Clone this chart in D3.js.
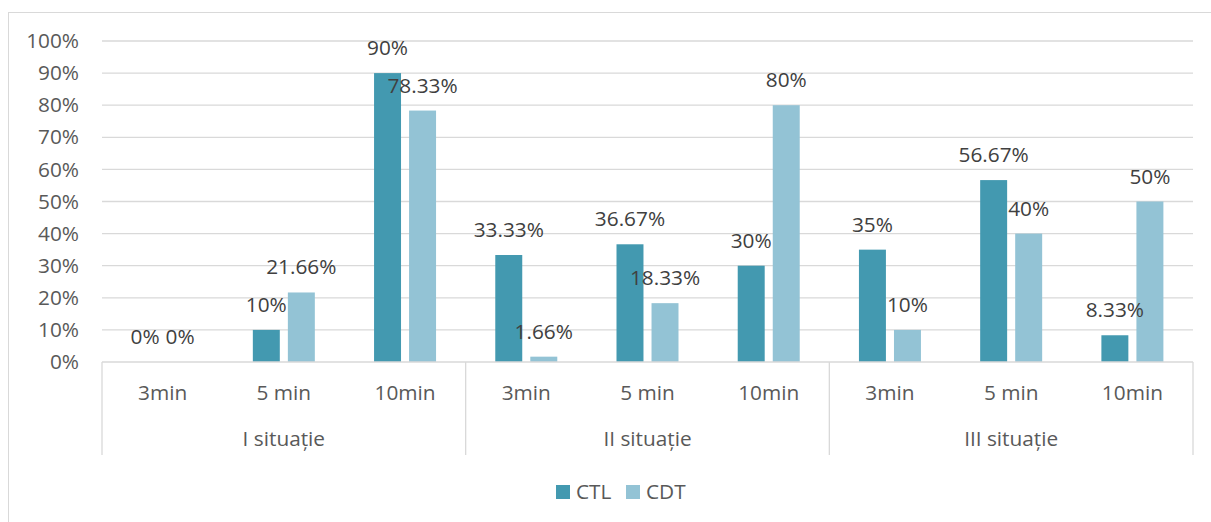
<!DOCTYPE html>
<html>
<head>
<meta charset="utf-8">
<script src="https://cdn.jsdelivr.net/npm/d3@7"></script>
<style>
  html, body { margin: 0; padding: 0; background: #fff; }
  svg { display: block; font-family: "Open Sans", sans-serif; }
</style>
</head>
<body>
<svg id="chart" width="1211" height="522"></svg>
<script>
// Groups (situations) and the time categories inside each one
const groups = ["I situație", "II situație", "III situație"];
const times = ["3min", "5 min", "10min"];
const seriesNames = ["CTL", "CDT"];
// Percent values, three per group, in group order
const ctlValues = [0, 10, 90, 33.33, 36.67, 30, 35, 56.67, 8.33];
const cdtValues = [0, 21.66, 78.33, 1.66, 18.33, 80, 10, 40, 50];
const yTicks = [0, 10, 20, 30, 40, 50, 60, 70, 80, 90, 100];
const colors = { CTL: "#4399b0", CDT: "#93c3d5" };

const svg = d3.select("#chart");
const plotLeft = 102, plotRight = 1193, plotTop = 41, plotBottom = 362;
const fontSize = 20.8;

// Outer chart frame
svg.append("rect")
  .attr("x", 8.5).attr("y", 12.5)
  .attr("width", 1230).attr("height", 530)
  .attr("fill", "none").attr("stroke", "#d9d9d9").attr("stroke-width", 1);

const cats = [];
groups.forEach((g, gi) => times.forEach((t, ti) => cats.push({ g, t, i: gi * 3 + ti })));

const x0 = d3.scaleBand().domain(cats.map(d => d.i)).range([plotLeft, plotRight]);
const bw = x0.bandwidth();
const x1 = d3.scaleBand().domain(seriesNames)
  .range([bw / 2 - 31, bw / 2 + 31]).paddingInner(0.23);
const y = d3.scaleLinear().domain([0, 100]).range([plotBottom, plotTop]);

// Horizontal gridlines
svg.append("g").selectAll("line").data(yTicks.filter(v => v > 0)).join("line")
  .attr("x1", plotLeft).attr("x2", plotRight)
  .attr("y1", d => y(d)).attr("y2", d => y(d))
  .attr("stroke", "#d9d9d9").attr("stroke-width", 1.3);

// Value axis labels
const yAxis = d3.axisLeft(y).tickValues(yTicks).tickFormat(d => d + "%").tickSize(0).tickPadding(0);
const yg = svg.append("g").attr("transform", "translate(79,0)").call(yAxis);
yg.select(".domain").remove();
yg.selectAll("text").attr("fill", "#595959").attr("font-size", fontSize)
  .attr("font-family", "Open Sans, sans-serif");

// Bars
const data = cats.map(c => ({ ...c, vals: [
  { s: "CTL", v: ctlValues[c.i] }, { s: "CDT", v: cdtValues[c.i] }
]}));

const cg = svg.append("g").selectAll("g").data(data).join("g")
  .attr("transform", d => `translate(${x0(d.i)},0)`);

cg.selectAll("rect").data(d => d.vals).join("rect")
  .attr("x", d => x1(d.s)).attr("width", x1.bandwidth())
  .attr("y", d => y(d.v)).attr("height", d => y(0) - y(d.v))
  .attr("fill", d => colors[d.s]);

// Data labels above each bar
cg.selectAll("text").data(d => d.vals).join("text")
  .attr("x", d => x1(d.s) + x1.bandwidth() / 2)
  .attr("y", d => y(d.v) - 18)
  .attr("text-anchor", "middle")
  .attr("font-size", fontSize).attr("fill", "#404040")
  .text(d => d.v + "%");

// Category axis baseline and group separators
svg.append("line").attr("x1", plotLeft).attr("x2", plotRight)
  .attr("y1", plotBottom).attr("y2", plotBottom)
  .attr("stroke", "#d9d9d9").attr("stroke-width", 1.3);

const sepX = [0, 3, 6].map(i => x0(i)).concat([plotRight]);
svg.append("g").selectAll("line").data(sepX).join("line")
  .attr("x1", d => d).attr("x2", d => d)
  .attr("y1", plotBottom).attr("y2", 455)
  .attr("stroke", "#d9d9d9").attr("stroke-width", 1.3);

// Time labels
svg.append("g").selectAll("text").data(cats).join("text")
  .attr("x", d => x0(d.i) + bw / 2).attr("y", 400)
  .attr("text-anchor", "middle").attr("font-size", fontSize).attr("fill", "#595959")
  .text(d => d.t);

// Group labels
svg.append("g").selectAll("text").data(groups).join("text")
  .attr("x", (d, i) => x0(i * 3) + bw * 1.5).attr("y", 446)
  .attr("text-anchor", "middle").attr("font-size", fontSize).attr("fill", "#595959")
  .text(d => d);

// Legend
const lg = svg.append("g");
const legendX = [556, 626];
seriesNames.forEach((s, i) => {
  lg.append("rect").attr("x", legendX[i]).attr("y", 485)
    .attr("width", 14).attr("height", 14).attr("fill", colors[s]);
  lg.append("text").attr("x", legendX[i] + 20).attr("y", 499)
    .attr("font-size", fontSize).attr("fill", "#595959").text(s);
});
</script>
</body>
</html>
